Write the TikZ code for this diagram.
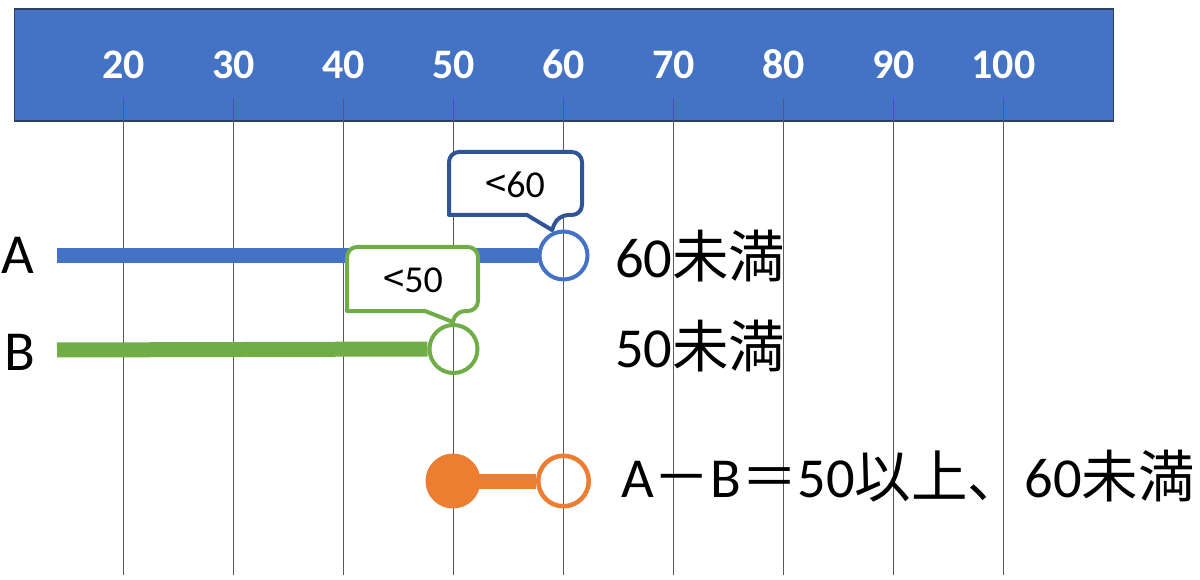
\documentclass[tikz,border=0pt]{standalone}
\usepackage{fontspec}
\setmainfont{Carlito}
\newfontfamily\cjk{Noto Sans CJK JP}
\definecolor{cblue}{HTML}{4472C4}
\definecolor{cgreen}{HTML}{70AD47}
\definecolor{corange}{HTML}{ED7D31}
\definecolor{cdark}{HTML}{2F5597}
\definecolor{cborder}{HTML}{2F3F60}
\begin{document}
\begin{tikzpicture}[x=1pt,y=-1pt,
  big/.style={font=\fontsize{56.5}{62}\selectfont, inner sep=0, anchor=base west},
  tick/.style={font=\bfseries\fontsize{42}{48}\selectfont, text=white, inner sep=0, anchor=base},
  gridline/.style={black!65, line width=1.2},
  bar/.style={line width=15},
  ring/.style={circle, draw, line width=4, inner sep=0, minimum size=48},
  callout/.style={line width=4, fill=white, line join=round},
  ctext/.style={font=\fontsize{38}{46}\selectfont, inner sep=0, anchor=base}]
\useasboundingbox (0,0) rectangle (1200,580);
% banner
\draw[draw=cborder, fill=cblue, line width=1.5] (14.5,9) rectangle (1113.5,121);
\foreach \v [count=\i from 0] in {20,30,...,100} {
  \coordinate (top\v) at (123.5+110*\i,98);
  \coordinate (bot\v) at (123.5+110*\i,575);
  \draw[gridline] (top\v) -- (bot\v);
  \node[tick] (t\v) at (123.5+110*\i,79) {\v};
}
% row A
\coordinate (Astart) at (57,255.5);
\node[ring, draw=cblue] (cA) at (563.5,255.5) {};
\draw[bar, cblue] (Astart) -- (cA.west);
% row B
\coordinate (Bstart) at (57,350);
\node[ring, draw=cgreen] (cB) at (453.5,349) {};
\draw[bar, cgreen] (Bstart) -- (cB.west);
% callouts
\draw[callout, draw=cdark] (515,152) [rounded corners=10] -- (582,152) -- (582,215) -- (558,215) [sharp corners] -- (552,230) -- (527,215) -- (449,215) [rounded corners=10] -- (449,152) -- cycle;
\node[ctext] (c60) at (515,198) {{\cjk <}60};
\draw[callout, draw=cgreen] (413,247) [rounded corners=10] -- (478,247) -- (478,311) -- (455,311) [sharp corners] -- (453,322) -- (425,311) -- (347,311) [rounded corners=10] -- (347,247) -- cycle;
\node[ctext] (c50) at (413,292) {{\cjk <}50};
% orange
\node[circle, fill=corange, minimum size=55, inner sep=0] (oF) at (453,481) {};
\node[ring, draw=corange, minimum size=50.5, line width=4.5] (oO) at (563.5,481) {};
\draw[bar, corange] (oF.center) -- (oO.west);
% labels
\node[big, anchor=base] (labA) at (18,273) {A};
\node[big, anchor=base] (labB) at (19.5,370) {B};
\node[big] (tA) at (615,278) {60{\cjk 未満}};
\node[big] (tB) at (615,367) {50{\cjk 未満}};
\node[big] (tAB) at (621,497) {A{\cjk －}B{\cjk ＝}50{\cjk 以上、}60{\cjk 未満}};
\end{tikzpicture}
\end{document}
